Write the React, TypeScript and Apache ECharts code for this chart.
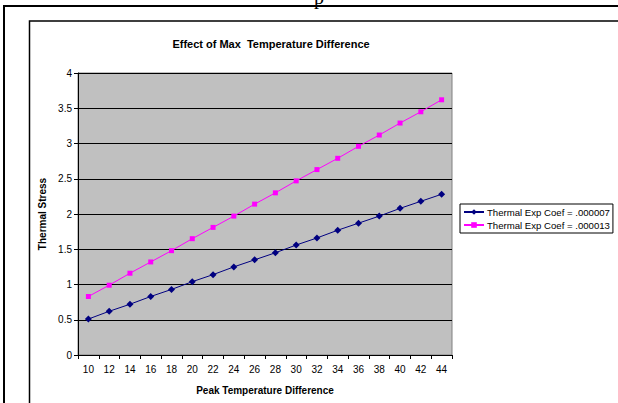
import React, { useEffect, useRef } from "react";
import * as echarts from "echarts";

const peakTempDiff = ["10", "12", "14", "16", "18", "20", "22", "24", "26", "28", "30", "32", "34", "36", "38", "40", "42", "44"];
const stressLowCoef = [0.51, 0.62, 0.72, 0.83, 0.93, 1.04, 1.14, 1.25, 1.35, 1.45, 1.56, 1.66, 1.77, 1.87, 1.97, 2.08, 2.18, 2.28];
const stressHighCoef = [0.83, 0.99, 1.16, 1.32, 1.48, 1.65, 1.81, 1.97, 2.14, 2.30, 2.47, 2.63, 2.79, 2.96, 3.12, 3.29, 3.45, 3.62];
const seriesNames = ["Thermal Exp Coef = .000007", "Thermal Exp Coef = .000013"];

const FONT = "Liberation Sans, Arial, sans-serif";

export default function App() {
  const ref = useRef<HTMLDivElement>(null);

  useEffect(() => {
    if (!ref.current) return;
    const chart = echarts.init(ref.current, null, { renderer: "svg" });
    chart.setOption({
      animation: false,
      backgroundColor: "#ffffff",
      textStyle: { fontFamily: FONT },
      title: {
        text: "Effect of Max  Temperature Difference",
        left: 266,
        top: 33,
        textAlign: "center",
        textStyle: { fontSize: 11, fontWeight: "bold", color: "#000", fontFamily: FONT },
      },
      graphic: [
        {
          type: "text",
          left: 314,
          top: -13,
          style: { text: "p", font: "20px 'Liberation Serif', serif", fill: "#000" },
          z: 100,
        },
        {
          type: "rect",
          shape: { x: 4, y: 6, width: 700, height: 500 },
          style: { fill: "none", stroke: "#000", lineWidth: 2 },
          z: 100,
        },
        {
          type: "rect",
          shape: { x: 29.5, y: 21, width: 700, height: 500 },
          style: { fill: "none", stroke: "#000", lineWidth: 1.5 },
          z: 100,
        },
      ],
      legend: {
        orient: "vertical",
        left: 460,
        top: 204,
        data: seriesNames,
        backgroundColor: "#fff",
        borderColor: "#000",
        borderWidth: 1,
        borderRadius: 0,
        padding: [3, 3, 3, 3],
        itemGap: 3,
        itemWidth: 20,
        itemHeight: 7,
        textStyle: { fontSize: 9.6, color: "#000", fontFamily: FONT, padding: [0, 0, 0, -2] },
      },
      grid: {
        left: 78,
        right: 166,
        top: 73,
        bottom: 48,
        show: true,
        backgroundColor: "#C0C0C0",
        borderColor: "#808080",
        borderWidth: 1,
      },
      xAxis: {
        type: "category",
        data: peakTempDiff,
        boundaryGap: true,
        name: "Peak Temperature Difference",
        nameLocation: "middle",
        nameGap: 30,
        nameTextStyle: { fontSize: 10, fontWeight: "bold", color: "#000", fontFamily: FONT },
        axisLine: { show: true, lineStyle: { color: "#000", width: 1 } },
        axisTick: { show: true, alignWithLabel: false, length: 4, lineStyle: { color: "#000" } },
        axisLabel: { fontSize: 10, color: "#000", margin: 9, interval: 0, fontFamily: FONT },
        splitLine: { show: false },
      },
      yAxis: {
        type: "value",
        min: 0,
        max: 4,
        interval: 0.5,
        name: "Thermal Stress",
        nameLocation: "middle",
        nameGap: 27,
        nameRotate: 90,
        nameTextStyle: { fontSize: 10, fontWeight: "bold", color: "#000", fontFamily: FONT },
        axisLine: { show: true, lineStyle: { color: "#000", width: 1 } },
        axisTick: { show: true, length: 4, lineStyle: { color: "#000" } },
        axisLabel: { fontSize: 10, color: "#000", margin: 6, fontFamily: FONT },
        splitLine: { show: true, lineStyle: { color: "#000", width: 1 } },
      },
      series: [
        {
          name: seriesNames[0],
          type: "line",
          data: stressLowCoef,
          symbol: "diamond",
          symbolSize: 7,
          lineStyle: { color: "#000080", width: 1 },
          itemStyle: { color: "#000080" },
        },
        {
          name: seriesNames[1],
          type: "line",
          data: stressHighCoef,
          symbol: "rect",
          symbolSize: 5,
          lineStyle: { color: "#FF00FF", width: 1 },
          itemStyle: { color: "#FF00FF" },
        },
      ],
    });
    return () => chart.dispose();
  }, []);

  return <div ref={ref} style={{ width: 618, height: 403, position: "absolute", left: 0, top: 0 }} />;
}
